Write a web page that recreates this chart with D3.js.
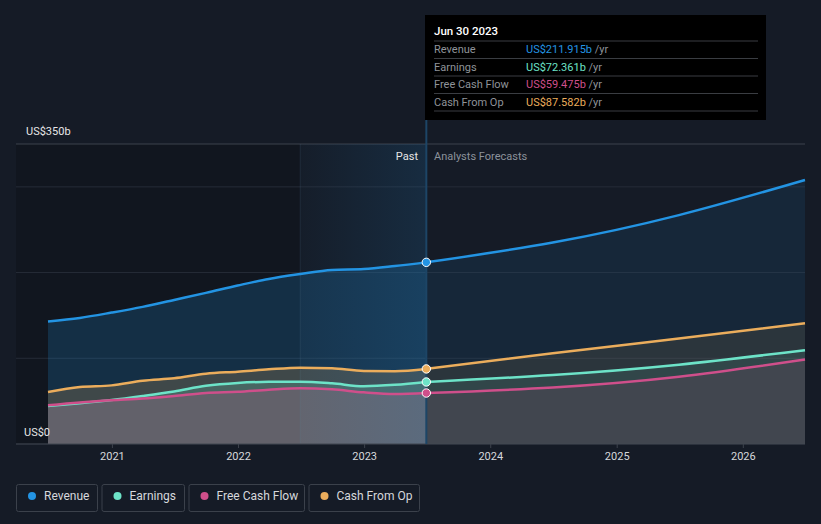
<!DOCTYPE html>
<html><head><meta charset="utf-8">
<script src="https://cdn.jsdelivr.net/npm/d3@7"></script>
<style>
html,body{margin:0;padding:0;background:#151b26;}
svg{display:block;font-family:Roboto,"Open Sans",sans-serif;}
</style></head>
<body>
<svg id="c" width="821" height="524"></svg>
<script>
// ---- data ----
const pastDates = ["2020-06-30","2020-09-30","2020-12-31","2021-03-31","2021-06-30","2021-09-30","2021-12-31","2022-03-31","2022-06-30","2022-09-30","2022-12-31","2023-03-31","2023-06-30"];
const revenuePast  = [143.0,147.1,153.3,160.0,168.1,176.3,184.9,192.6,198.3,203.1,204.1,207.6,211.915];
const earningsPast = [44.3,47.5,51.3,56.0,61.3,67.9,71.2,72.5,72.7,70.8,67.4,69.0,72.361];
const fcfPast      = [45.2,48.5,51.0,53.0,56.1,59.6,61.0,63.4,65.1,63.8,60.3,58.3,59.475];
const cfoPast      = [60.7,66.5,68.4,73.9,76.7,82.0,84.4,87.1,89.0,88.3,85.2,85.0,87.582];
const forecastDates = ["2023-06-30","2024-06-30","2025-06-30","2026-06-30"];
const revenueFc  = [211.915,235,267,308];
const earningsFc = [72.361,80.5,92.5,109.5];
const fcfFc      = [59.475,66,78.5,98.5];
const cfoFc      = [87.582,106,123,141];
const seriesNames = ["Revenue","Earnings","Free Cash Flow","Cash From Op"];
const seriesColors = ["#2394e3","#6de3c8","#cf4f8b","#ebad5c"];
const tooltipValues = ["US$211.915b","US$72.361b","US$59.475b","US$87.582b"];
const yTicks = [0,100,200,300,350];
const xTickYears = [2021,2022,2023,2024,2025,2026];

const parse = d3.timeParse("%Y-%m-%d");
const pastD = pastDates.map(parse), fcD = forecastDates.map(parse);
const past = [revenuePast,earningsPast,fcfPast,cfoPast];
const fc = [revenueFc,earningsFc,fcfFc,cfoFc];

const svg = d3.select("#c");
const x = d3.scaleTime().domain([parse("2020-06-30"),parse("2026-06-30")]).range([48,805]);
const y = d3.scaleLinear().domain([0,350]).range([444,144]);
const nowD = parse("2023-06-30"), yearAgo = parse("2022-06-30");
const xl = 16, xr = 805;

const defs = svg.append("defs");
const g1 = defs.append("linearGradient").attr("id","pastHL").attr("x1","0").attr("x2","1").attr("y1","0").attr("y2","0");
g1.append("stop").attr("offset","0").attr("stop-color","#2394e3").attr("stop-opacity",0.02);
g1.append("stop").attr("offset","1").attr("stop-color","#2394e3").attr("stop-opacity",0.14);

// darker past background
svg.append("rect").attr("x",xl).attr("y",144).attr("width",x(yearAgo)-xl).attr("height",300).attr("fill","#000").attr("opacity",0.18);

// grid
svg.append("g").selectAll("line").data(yTicks).join("line")
  .attr("x1",xl).attr("x2",xr).attr("y1",d=>y(d)).attr("y2",d=>y(d))
  .attr("stroke",d=>d===350?"#3d434d":"#262c37").attr("stroke-width",1);

// areas
const areaP = d3.area().x(d=>x(d[0])).y0(y(0)).y1(d=>y(d[1])).curve(d3.curveMonotoneX);
const areaF = d3.area().x(d=>x(d[0])).y0(y(0)).y1(d=>y(d[1])).curve(d3.curveNatural);
const lineP = d3.line().x(d=>x(d[0])).y(d=>y(d[1])).curve(d3.curveMonotoneX);
const lineF = d3.line().x(d=>x(d[0])).y(d=>y(d[1])).curve(d3.curveNatural);
const order = [0,3,1,2];
order.forEach(i=>{
  const pp = pastD.map((d,k)=>[d,past[i][k]]);
  const ff = fcD.map((d,k)=>[d,fc[i][k]]);
  svg.append("path").attr("d",areaP(pp)).attr("fill",seriesColors[i]).attr("opacity",0.2);
  svg.append("path").attr("d",areaF(ff)).attr("fill",seriesColors[i]).attr("opacity",0.1);
});

// past highlight
svg.append("rect").attr("x",x(yearAgo)).attr("y",144).attr("width",x(nowD)-x(yearAgo)).attr("height",300).attr("fill","url(#pastHL)");
svg.append("line").attr("x1",x(yearAgo)).attr("x2",x(yearAgo)).attr("y1",144).attr("y2",444).attr("stroke","#5a7d9c").attr("stroke-opacity",0.18);

// lines
order.forEach(i=>{
  const pp = pastD.map((d,k)=>[d,past[i][k]]);
  const ff = fcD.map((d,k)=>[d,fc[i][k]]);
  svg.append("path").attr("d",lineP(pp)).attr("fill","none").attr("stroke",seriesColors[i]).attr("stroke-width",2.5);
  svg.append("path").attr("d",lineF(ff)).attr("fill","none").attr("stroke",seriesColors[i]).attr("stroke-width",2.5);
});

// axis
svg.append("line").attr("x1",xl).attr("x2",xr).attr("y1",444).attr("y2",444).attr("stroke","#3d434d");
const xAxis = d3.axisBottom(x).tickValues(xTickYears.map(yy=>new Date(yy,0,1))).tickFormat(d3.timeFormat("%Y")).tickSize(4).tickPadding(4);
const ax = svg.append("g").attr("transform","translate(0,444)").call(xAxis);
ax.select(".domain").remove();
ax.selectAll(".tick line").attr("stroke","#3d434d");
ax.selectAll(".tick text").attr("fill","#d6d8dc").attr("font-size",11).attr("font-family","Roboto,sans-serif");

svg.append("text").attr("x",26).attr("y",135).attr("fill","#e6e6e6").attr("font-size",11).text("US$350b");
svg.append("text").attr("x",24).attr("y",436).attr("fill","#e6e6e6").attr("font-size",11).text("US$0");
svg.append("text").attr("x",418).attr("y",160).attr("text-anchor","end").attr("fill","#e6e6e6").attr("font-size",11).text("Past");
svg.append("text").attr("x",434).attr("y",160).attr("fill","#8c929b").attr("font-size",11).text("Analysts Forecasts");

// now line
svg.append("line").attr("x1",x(nowD)).attr("x2",x(nowD)).attr("y1",118).attr("y2",444).attr("stroke","#1d4566").attr("stroke-width",2);

// dots
[0,3,1,2].forEach(i=>{
  svg.append("circle").attr("cx",x(nowD)).attr("cy",y(fc[i][0])).attr("r",4.2).attr("fill",seriesColors[i]).attr("stroke","#ffffff").attr("stroke-width",1);
});

// tooltip
const tt = svg.append("g");
tt.append("rect").attr("x",425).attr("y",15).attr("width",341).attr("height",105).attr("fill","#000");
tt.append("text").attr("x",434).attr("y",35).attr("fill","#ffffff").attr("font-size",11.5).attr("font-weight",500).text("Jun 30 2023");
const rowY = [41,58.5,76,93.5,111];
rowY.forEach(yy=>tt.append("line").attr("x1",434).attr("x2",758).attr("y1",yy).attr("y2",yy).attr("stroke","#3a3d42"));
seriesNames.forEach((n,i)=>{
  const by = 53 + i*17.5;
  tt.append("text").attr("x",434).attr("y",by).attr("fill","#8f9399").attr("font-size",11).text(n);
  const t = tt.append("text").attr("x",526).attr("y",by).attr("font-size",11);
  t.append("tspan").attr("fill",seriesColors[i]).text(tooltipValues[i]);
  t.append("tspan").attr("fill","#8f9399").text(" /yr");
});

// legend
const lg = svg.append("g");
const boxX = [16.5,102,189,309], boxW = [81,82.5,115.5,110.5];
seriesNames.forEach((n,i)=>{
  lg.append("rect").attr("x",boxX[i]).attr("y",484.5).attr("width",boxW[i]).attr("height",27).attr("rx",2).attr("fill","none").attr("stroke","#3b414b");
  lg.append("circle").attr("cx",boxX[i]+15.5).attr("cy",496).attr("r",4).attr("fill",seriesColors[i]);
  lg.append("text").attr("x",boxX[i]+27.5).attr("y",500).attr("fill","#d6d8dc").attr("font-size",12).text(n);
});
</script>
</body></html>
